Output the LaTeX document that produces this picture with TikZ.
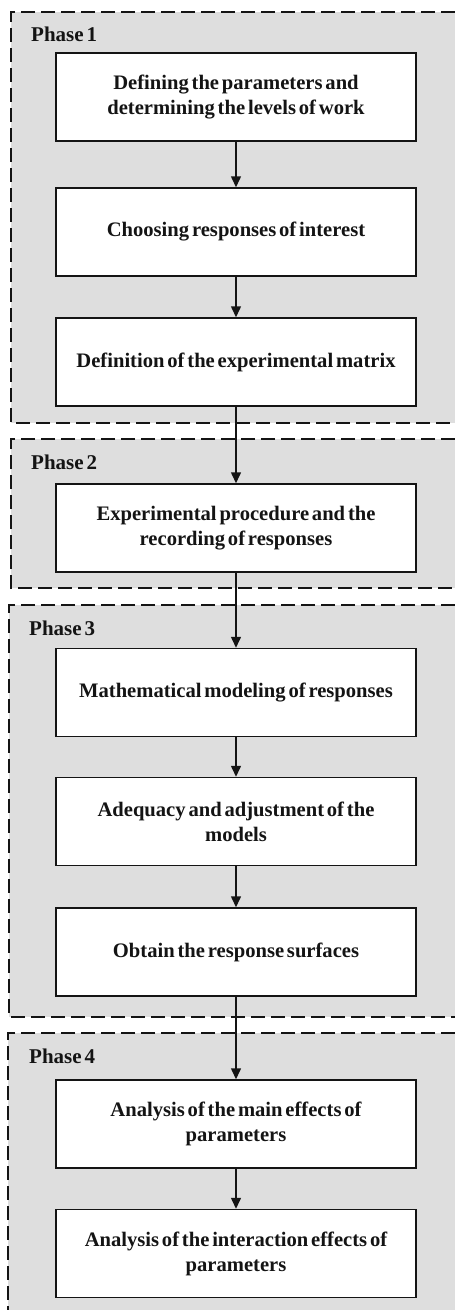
\documentclass[tikz,border=0pt]{standalone}
\usepackage{fontspec}
\setmainfont[WordSpace=0.55]{Liberation Serif}
\usetikzlibrary{arrows.meta}
\definecolor{phasegray}{RGB}{222,222,222}
\definecolor{inkc}{RGB}{20,20,20}
\tikzset{
  phasebg/.style={fill=phasegray, draw=none},
  phaseedge/.style={draw=inkc, line width=1.6pt, dash pattern=on 14pt off 6pt},
  stepbox/.style={draw=inkc, fill=white, line width=1.5pt, minimum width=360pt, minimum height=88pt,
    align=center, inner sep=0pt, text=inkc, font=\fontsize{20.6}{25}\selectfont\bfseries},
  phaselabel/.style={anchor=west, inner sep=0pt, text=inkc, font=\fontsize{21}{24}\selectfont\bfseries},
  flow/.style={draw=inkc, line width=1.5pt, -{Triangle[length=11pt,width=10pt]}}
}
\begin{document}
\begin{tikzpicture}[x=1pt,y=-1pt]
\useasboundingbox (0,0) rectangle (455,1310);
\fill[white] (0,0) rectangle (455,1310);
% phase backgrounds
\fill[phasebg] (11,12) rectangle (455,423);
\fill[phasebg] (11,439) rectangle (455,588);
\fill[phasebg] (9,605) rectangle (455,1017);
\fill[phasebg] (8,1033) rectangle (455,1310);
\draw[phaseedge] (455,12) -- (11,12) -- (11,423) -- (455,423);
\draw[phaseedge] (455,439) -- (11,439) -- (11,588) -- (455,588);
\draw[phaseedge] (455,605) -- (9,605) -- (9,1017) -- (455,1017);
\draw[phaseedge] (455,1033) -- (8,1033) -- (8,1312);
% labels
\node[phaselabel] (l1) at (31,34) {Phase 1};
\node[phaselabel] (l2) at (31,462) {Phase 2};
\node[phaselabel] (l3) at (29,628) {Phase 3};
\node[phaselabel] (l4) at (29,1056) {Phase 4};
% boxes
\node[stepbox] (b1) at (236,97) {Defining the parameters and\\determining the levels of work};
\node[stepbox] (b2) at (236,232) {Choosing responses of interest};
\node[stepbox] (b3) at (236,362) {Definition of the experimental matrix};
\node[stepbox] (b4) at (236,528) {Experimental procedure and the\\recording of responses};
\node[stepbox] (b5) at (236,692.5) {Mathematical modeling of responses};
\node[stepbox] (b6) at (236,821.5) {Adequacy and adjustment of the\\models};
\node[stepbox] (b7) at (236,952) {Obtain the response surfaces};
\node[stepbox] (b8) at (236,1124) {Analysis of the main effects of\\parameters};
\node[stepbox] (b9) at (236,1253.5) {Analysis of the interaction effects of\\parameters};
% arrows
\foreach \a/\b in {b1/b2,b2/b3,b3/b4,b4/b5,b5/b6,b6/b7,b7/b8,b8/b9}
  \draw[flow] (\a) -- (\b);
\end{tikzpicture}
\end{document}
